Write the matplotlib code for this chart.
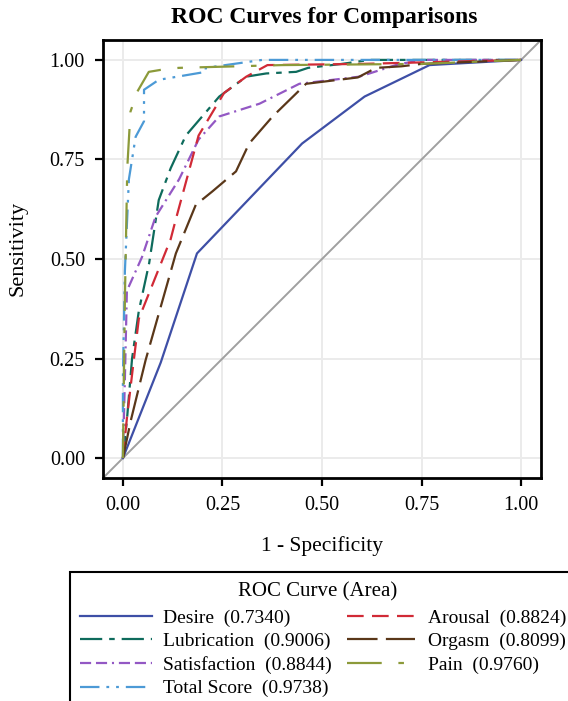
import matplotlib
matplotlib.use('Agg')
import matplotlib.pyplot as plt
from matplotlib.patches import Rectangle

plt.rcParams['font.family'] = ['Liberation Serif', 'DejaVu Serif']
plt.rcParams['lines.scale_dashes'] = False

# Curvas ROC (1 - especificidad, sensibilidad)
desire_x = [0, 0.095, 0.186, 0.45, 0.607, 0.77, 1.0]
desire_y = [0, 0.24, 0.514, 0.79, 0.908, 0.987, 1.0]

arousal_x = [0, 0.01, 0.023, 0.04, 0.12, 0.133, 0.19, 0.254, 0.31, 0.363, 0.6, 1.0]
arousal_y = [0, 0.10, 0.21, 0.35, 0.55, 0.60, 0.81, 0.917, 0.958, 0.987, 0.99, 1.0]

lubri_x = [0, 0.01, 0.023, 0.04, 0.066, 0.09, 0.12, 0.158, 0.242, 0.31, 0.36, 0.435, 0.465, 0.55, 0.62, 1.0]
lubri_y = [0, 0.095, 0.25, 0.37, 0.49, 0.648, 0.728, 0.81, 0.908, 0.958, 0.966, 0.97, 0.98, 0.99, 1.0, 1.0]

orgasm_x = [0, 0.02, 0.057, 0.133, 0.183, 0.225, 0.284, 0.317, 0.376, 0.46, 0.59, 0.636, 0.70, 0.75, 1.0]
orgasm_y = [0, 0.095, 0.246, 0.514, 0.636, 0.67, 0.72, 0.79, 0.858, 0.94, 0.956, 0.98, 0.984, 0.99, 1.0]

satis_x = [0, 0.005, 0.01, 0.048, 0.082, 0.141, 0.19, 0.242, 0.343, 0.443, 0.594, 0.695, 0.76, 1.0]
satis_y = [0, 0.20, 0.42, 0.505, 0.606, 0.70, 0.80, 0.858, 0.89, 0.94, 0.958, 0.99, 1.0, 1.0]

pain_x = [0, 0.005, 0.011, 0.019, 0.036, 0.065, 0.095, 0.14, 0.40, 0.75, 1.0]
pain_y = [0, 0.40, 0.73, 0.87, 0.92, 0.97, 0.975, 0.98, 0.987, 0.99, 1.0]

total_x = [0, 0.0, 0.005, 0.015, 0.032, 0.053, 0.053, 0.09, 0.208, 0.208, 0.35, 1.0]
total_y = [0, 0.20, 0.47, 0.70, 0.807, 0.846, 0.925, 0.95, 0.97, 0.98, 1.0, 1.0]

etiquetas = ['Desire  (0.7340)', 'Lubrication  (0.9006)', 'Satisfaction  (0.8844)',
             'Total Score  (0.9738)', 'Arousal  (0.8824)', 'Orgasm  (0.8099)', 'Pain  (0.9760)']

ticks = [0.00, 0.25, 0.50, 0.75, 1.00]
tick_labels = ['0.00', '0.25', '0.50', '0.75', '1.00']

W, H = 568, 701
fig = plt.figure(figsize=(W/100, H/100), dpi=100)
ax = fig.add_axes([103/W, 1-478/H, (541-103)/W, (478-40)/H])

ax.plot([-0.05, 1.05], [-0.05, 1.05], color='#A0A0A0', lw=1.4, zorder=1)

curvas = [
    (desire_x, desire_y, '#3E4FA6', '-'),
    (lubri_x, lubri_y, '#0E6B5C', (0, (16, 5, 4, 5))),
    (satis_x, satis_y, '#9358C4', (0, (8, 3.5, 8, 3.5, 1.5, 3.5))),
    (total_x, total_y, '#4C9AD6', (0, (14, 5, 2, 5, 2, 5))),
    (arousal_x, arousal_y, '#D12A36', (0, (12, 6))),
    (orgasm_x, orgasm_y, '#5A3719', (0, (22, 6))),
    (pain_x, pain_y, '#8C9A3A', (0, (25, 12, 4, 12))),
]

handles = []
for (x, y, c, ls), lab in zip(curvas, etiquetas):
    h, = ax.plot(x, y, color=c, lw=1.6, linestyle=ls, label=lab, zorder=3)
    handles.append(h)

ax.set_xlim(-0.05, 1.05)
ax.set_ylim(-0.05, 1.05)
ax.set_xticks(ticks)
ax.set_xticklabels(tick_labels)
ax.set_yticks(ticks)
ax.set_yticklabels(tick_labels)
ax.grid(True, color='#EBEBEB', lw=1.4, zorder=0)
ax.set_axisbelow(True)
ax.tick_params(labelsize=14.5, length=6, width=1.6, direction='out', pad=7)
for s in ax.spines.values():
    s.set_linewidth(2.0)

fig.text(324/W, 1-18/H, 'ROC Curves for Comparisons', fontsize=17, fontweight='bold',
         ha='center', va='center')
fig.text(322/W, 1-546/H, '1 - Specificity', fontsize=15.5, ha='center', va='center')
fig.text(18/W, 1-248/H, 'Sensitivity', fontsize=16, ha='center', va='center', rotation=90)

# Cuadro de la leyenda (cortado por el borde de la figura)
fig.patches.append(Rectangle((70/W, -0.05), 1.0, 1-572/H+0.05, transform=fig.transFigure,
                             fill=False, edgecolor='black', lw=1.5))
fig.text(318/W, 1-592/H, 'ROC Curve (Area)', fontsize=15, ha='center', va='center')

leg1 = fig.legend(handles=handles[:4], loc='upper left', bbox_to_anchor=(80/W, 1-609/H),
                  frameon=False, fontsize=14, handlelength=3.7, handletextpad=0.55,
                  labelspacing=0.3, borderpad=0, borderaxespad=0)
leg2 = fig.legend(handles=handles[4:], loc='upper left', bbox_to_anchor=(347/W, 1-609/H),
                  frameon=False, fontsize=14, handlelength=3.5, handletextpad=0.65,
                  labelspacing=0.3, borderpad=0, borderaxespad=0)

fig.savefig('out.png', dpi=100)
plt.close()
